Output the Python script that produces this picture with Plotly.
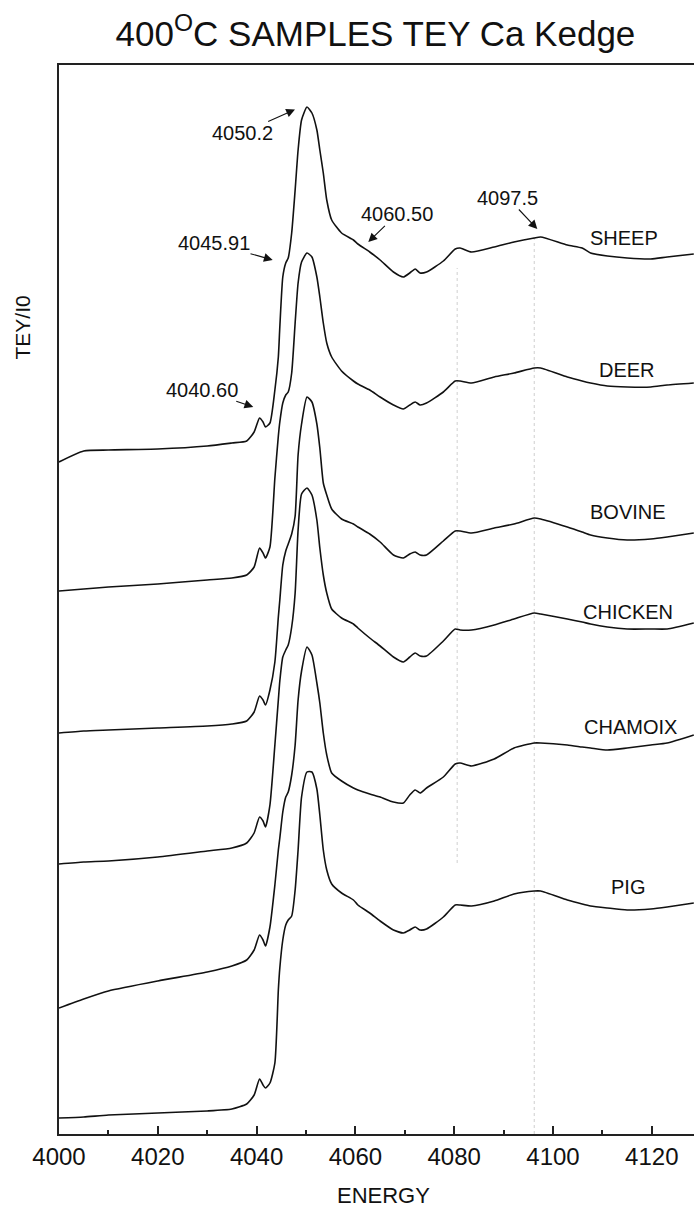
import plotly.graph_objects as go

# Photon energy grid (eV)
energy = [4000, 4005, 4010, 4020, 4030, 4035, 4038, 4039.5, 4040.6, 4041.3,
          4041.8, 4042.7, 4043.7, 4044.4, 4044.7, 4045.3, 4045.9, 4046.4, 4047.1, 4047.8,
          4048.4, 4049.1, 4050.2, 4051.2, 4052.2, 4052.8, 4053.5, 4054.2, 4055.2, 4057.2,
          4059.6, 4060.5, 4062.9, 4065, 4067.7, 4069.7, 4071, 4072.1, 4073.1, 4074.4,
          4077.8, 4080.2, 4081.2, 4083.5, 4088.1, 4092.1, 4096.2, 4097.5, 4102.9, 4105.9,
          4107.6, 4111, 4115, 4119.8, 4123.1, 4128.5]

# TEY/I0 spectra, stacked with a vertical offset per sample
sheep = [6.72, 6.83, 6.84, 6.85, 6.88, 6.91, 6.93, 7.02, 7.16, 7.12,
         7.07, 7.11, 7.44, 7.77, 8.07, 8.57, 8.71, 8.76, 9.01, 9.44,
         9.84, 10.14, 10.27, 10.21, 10.04, 9.84, 9.61, 9.34, 9.14, 9.01,
         8.94, 8.90, 8.82, 8.74, 8.62, 8.57, 8.61, 8.65, 8.61, 8.62,
         8.73, 8.85, 8.86, 8.82, 8.87, 8.92, 8.96, 8.97, 8.89, 8.86,
         8.81, 8.78, 8.76, 8.75, 8.77, 8.80]
deer = [5.43, 5.45, 5.47, 5.50, 5.54, 5.56, 5.59, 5.67, 5.86, 5.81,
        5.76, 5.87, 6.56, 6.98, 7.12, 7.31, 7.39, 7.42, 7.61, 8.11,
        8.51, 8.72, 8.81, 8.77, 8.57, 8.37, 8.11, 7.91, 7.77, 7.63,
        7.53, 7.50, 7.44, 7.37, 7.29, 7.25, 7.29, 7.32, 7.29, 7.31,
        7.42, 7.53, 7.53, 7.51, 7.57, 7.61, 7.66, 7.66, 7.57, 7.53,
        7.51, 7.48, 7.47, 7.47, 7.49, 7.51]
bovine = [4.01, 4.03, 4.04, 4.06, 4.08, 4.10, 4.13, 4.22, 4.38, 4.34,
          4.29, 4.44, 4.72, 5.17, 5.34, 5.69, 5.83, 5.90, 6.00, 6.18,
          6.79, 7.10, 7.37, 7.32, 7.10, 6.86, 6.51, 6.39, 6.25, 6.15,
          6.10, 6.07, 6.00, 5.92, 5.79, 5.76, 5.80, 5.82, 5.79, 5.79,
          5.93, 6.03, 6.03, 6.01, 6.06, 6.10, 6.16, 6.15, 6.07, 6.02,
          5.99, 5.96, 5.94, 5.95, 5.97, 6.01]
chicken = [2.70, 2.72, 2.73, 2.77, 2.83, 2.86, 2.91, 3.01, 3.17, 3.13,
           3.07, 3.29, 3.89, 4.34, 4.53, 4.77, 4.84, 4.89, 5.07, 5.41,
           6.04, 6.40, 6.46, 6.39, 6.14, 5.86, 5.59, 5.41, 5.25, 5.16,
           5.10, 5.06, 4.96, 4.88, 4.77, 4.72, 4.77, 4.81, 4.78, 4.78,
           4.93, 5.05, 5.04, 5.04, 5.09, 5.15, 5.21, 5.20, 5.15, 5.12,
           5.10, 5.07, 5.05, 5.05, 5.05, 5.11]
chamoix = [1.26, 1.35, 1.43, 1.53, 1.62, 1.68, 1.74, 1.84, 1.99, 1.94,
           1.88, 2.07, 2.49, 2.84, 2.96, 3.22, 3.37, 3.42, 3.59, 3.89,
           4.34, 4.63, 4.87, 4.79, 4.51, 4.31, 4.01, 3.79, 3.61, 3.53,
           3.46, 3.44, 3.40, 3.37, 3.32, 3.31, 3.39, 3.44, 3.41, 3.46,
           3.57, 3.70, 3.71, 3.68, 3.75, 3.86, 3.91, 3.91, 3.89, 3.87,
           3.86, 3.84, 3.86, 3.89, 3.91, 3.99]
pig = [0.16, 0.17, 0.19, 0.21, 0.23, 0.25, 0.30, 0.39, 0.55, 0.49,
       0.46, 0.51, 0.71, 1.44, 1.66, 1.94, 2.09, 2.14, 2.18, 2.44,
       2.84, 3.37, 3.62, 3.62, 3.45, 3.19, 2.84, 2.64, 2.50, 2.41,
       2.34, 2.29, 2.21, 2.13, 2.04, 2.01, 2.04, 2.07, 2.04, 2.05,
       2.17, 2.29, 2.29, 2.28, 2.33, 2.40, 2.43, 2.43, 2.34, 2.30,
       2.28, 2.26, 2.24, 2.25, 2.27, 2.31]

sample_names = ["SHEEP", "DEER", "BOVINE", "CHICKEN", "CHAMOIX", "PIG"]
spectra = [sheep, deer, bovine, chicken, chamoix, pig]

# Feature energies marked on the top spectrum
feature_labels = ["4050.2", "4045.91", "4040.60", "4060.50", "4097.5"]

# Reference energies drawn as dotted guides
guide_energies = [4080.6, 4096.2]

FONT = "Liberation Sans, Arial, Helvetica, sans-serif"
INK = "#111111"

fig = go.Figure()

for name, values in zip(sample_names, spectra):
    fig.add_trace(go.Scatter(
        x=energy, y=values, mode="lines", name=name,
        line=dict(color=INK, width=1.6, shape="spline", smoothing=0.55),
        hoverinfo="skip", showlegend=False,
    ))

# dotted guides (from, to) in intensity units
guide_spans = [(2.71, 8.66), (0.0, 8.97)]
for e, (y0, y1) in zip(guide_energies, guide_spans):
    fig.add_shape(type="line", xref="x", yref="y", x0=e, x1=e, y0=y0, y1=y1,
                  line=dict(color="#cfcfcf", width=1, dash="dot"), layer="below")

# sample names at the right of each spectrum
name_x = [4114.4, 4115.0, 4115.2, 4115.2, 4115.6, 4115.2]
name_y = [8.96, 7.64, 6.22, 5.22, 4.07, 2.47]
for name, x, y in zip(sample_names, name_x, name_y):
    fig.add_annotation(x=x, y=y, text=name, showarrow=False,
                       font=dict(family=FONT, size=20, color=INK))

# arrows pointing at spectral features
tip_x = [4047.77, 4043.26, 4039.33, 4062.61, 4096.82]
tip_y = [10.245, 8.74, 7.27, 8.92, 9.05]
off_x = [-52.5, -58.7, -50.8, 28.4, -29.3]
off_y = [23.5, -16.7, -17.3, -27.7, -31.0]
for label, x, y, ax, ay in zip(feature_labels, tip_x, tip_y, off_x, off_y):
    fig.add_annotation(x=x, y=y, text=label, showarrow=True,
                       ax=ax, ay=ay, arrowhead=2, arrowsize=1.6, arrowwidth=1.1,
                       arrowcolor=INK, borderpad=0,
                       font=dict(family=FONT, size=20, color=INK))

# axis titles
fig.add_annotation(xref="paper", yref="paper", x=-0.058, y=0.7546,
                   text="TEY/I0", textangle=-90, showarrow=False,
                   xanchor="center", yanchor="middle",
                   font=dict(family=FONT, size=21, color=INK))
fig.add_annotation(xref="paper", yref="paper", x=0.511, y=-0.0573,
                   text="ENERGY", showarrow=False,
                   xanchor="center", yanchor="middle",
                   font=dict(family=FONT, size=22, color=INK))

fig.update_layout(
    width=694, height=1207,
    margin=dict(l=59, r=0, t=65, b=73),
    paper_bgcolor="white", plot_bgcolor="white",
    font=dict(family=FONT, color=INK),
    title=dict(text="400<sup>O</sup>C SAMPLES TEY Ca Kedge",
               x=0.541, xanchor="center", y=0.972, yanchor="middle",
               font=dict(family=FONT, size=35, color=INK)),
    xaxis=dict(
        range=[4000, 4128.54], showgrid=False, zeroline=False,
        showline=True, linecolor="#222", linewidth=2, mirror=True,
        ticks="inside", ticklen=8, tickwidth=1.5, tickcolor="#222",
        dtick=20, tick0=4000,
        minor=dict(ticks="inside", ticklen=4, tickwidth=1.5, tickcolor="#222", dtick=10),
        tickfont=dict(family=FONT, size=24, color=INK),
    ),
    yaxis=dict(
        range=[0, 10.69], showgrid=False, zeroline=False,
        showline=True, linecolor="#222", linewidth=2, mirror=False,
        ticks="", showticklabels=False,
    ),
)

fig.write_html("out.html")
